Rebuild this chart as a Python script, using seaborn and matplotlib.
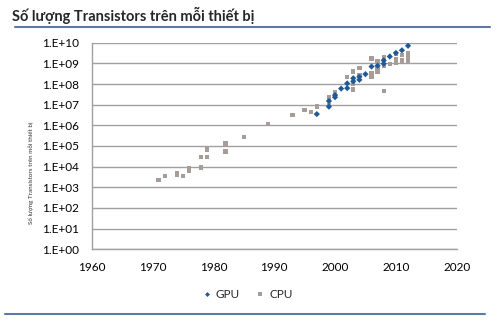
import matplotlib
matplotlib.use("Agg")
import matplotlib.pyplot as plt
import seaborn as sns
import pandas as pd
import numpy as np
from matplotlib.lines import Line2D

# ---- data ----
gpu_years = [1997, 1999, 1999, 2000, 2000, 2001, 2002, 2002, 2003, 2003,
             2004, 2004, 2005, 2006, 2007, 2008, 2008, 2009, 2010, 2011, 2012]
gpu_values = [3.5e6, 15e6, 8e6, 29e6, 23e6, 60e6, 63e6, 107e6, 135e6, 190e6,
              222e6, 160e6, 300e6, 700e6, 770e6, 1.4e9, 956e6, 2.15e9, 3.2e9, 4.3e9, 7.1e9]

cpu_years = [1971, 1972, 1974, 1974, 1975, 1976, 1976, 1978, 1978, 1979, 1979,
             1982, 1982, 1985, 1989, 1993, 1995, 1996, 1997, 1997, 1999, 1999,
             2000, 2000, 2002, 2003, 2003, 2003, 2004, 2004, 2006, 2006, 2006,
             2007, 2007, 2007, 2008, 2008, 2008, 2008, 2009,
             2010, 2010, 2010, 2011, 2011, 2011, 2012, 2012, 2012, 2012]
cpu_values = [2300, 3500, 5000, 4100, 3500, 8500, 6500, 29000, 9000, 29000, 68000,
              134000, 55000, 275000, 1.2e6, 3.1e6, 5.5e6, 4.5e6, 7.5e6, 8.8e6, 9.5e6, 22e6,
              42e6, 30e6, 220e6, 54e6, 105e6, 410e6, 592e6, 275e6, 1.72e9, 330e6, 220e6,
              1.3e9, 580e6, 410e6, 2.0e9, 1.45e9, 750e6, 47e6, 930e6,
              2.9e9, 1.6e9, 1.1e9, 2.6e9, 1.4e9, 1.16e9, 3.1e9, 2.0e9, 1.4e9, 1.2e9]

series_names = ["GPU", "CPU"]
x_ticks = [1960, 1970, 1980, 1990, 2000, 2010, 2020]
y_exponents = list(range(0, 11))
title_text = "Số lượng Transistors trên mỗi thiết bị"
ylabel_text = "Số lượng Transistors trên mỗi thiết bị"

gpu_df = pd.DataFrame({"year": gpu_years, "value": gpu_values})
cpu_df = pd.DataFrame({"year": cpu_years, "value": cpu_values})

sns.set_theme(style="white")
plt.rcParams["font.family"] = ["Lato", "DejaVu Sans"]

GPU_COLOR = "#1F5A96"
CPU_COLOR = "#A69C98"
GRID = "#A0A0A0"
LINE_BLUE = "#5A7BA6"

fig = plt.figure(figsize=(5.0, 3.23), dpi=100)
ax = fig.add_axes([91.7 / 500, 1 - 249.3 / 323, (456.7 - 91.7) / 500, (249.3 - 42.7) / 323])

sns.scatterplot(data=cpu_df, x="year", y="value", ax=ax, marker="s", s=10,
                color=CPU_COLOR, edgecolor="none", linewidth=0, label="CPU", zorder=3)
sns.scatterplot(data=gpu_df, x="year", y="value", ax=ax, marker="D", s=10,
                color=GPU_COLOR, edgecolor="none", linewidth=0, label="GPU", zorder=4)

ax.set_yscale("log")
ax.set_xlim(1960, 2020)
ax.set_ylim(1, 1e10)
ax.set_xticks(x_ticks)
ax.set_xticklabels([str(t) for t in x_ticks])
yt = [10.0 ** e for e in y_exponents]
ax.yaxis.set_major_locator(matplotlib.ticker.FixedLocator(yt))
ax.yaxis.set_minor_locator(matplotlib.ticker.NullLocator())
ax.set_yticklabels(["1.E+%02d" % e for e in y_exponents])
ax.set_xlabel("")
ax.set_ylabel("")

ax.grid(axis="y", color=GRID, linewidth=1.0)
ax.grid(axis="x", visible=False)
for side in ["top", "right"]:
    ax.spines[side].set_visible(False)
for side in ["left", "bottom"]:
    ax.spines[side].set_color(GRID)
    ax.spines[side].set_linewidth(1.0)
ax.tick_params(axis="both", direction="out", length=4, width=1, color=GRID,
               labelsize=8.5, labelcolor="#000000", pad=3)
ax.tick_params(axis="y", pad=5)
ax.tick_params(axis="x", pad=5)
ax.set_facecolor("white")

if ax.get_legend():
    ax.get_legend().remove()

handles = [Line2D([], [], marker="D", linestyle="none", markersize=2.5, color=GPU_COLOR, markeredgewidth=0),
           Line2D([], [], marker="s", linestyle="none", markersize=3, color=CPU_COLOR, markeredgewidth=0)]
fig.legend(handles, series_names, loc="center", bbox_to_anchor=(248 / 500, 1 - 295 / 323),
           ncol=2, frameon=False, fontsize=8.5, handlelength=0.6, handletextpad=0.5,
           columnspacing=1.4)

fig.text(12 / 500, 1 - 15 / 323, title_text, fontsize=10.5, fontweight="bold",
         ha="left", va="center")
fig.text(31 / 500, 1 - 173 / 323, ylabel_text, fontsize=4.5, rotation=90,
         ha="center", va="center", color="#333333")

fig.add_artist(Line2D([15 / 500, 490 / 500], [1 - 26.7 / 323, 1 - 26.7 / 323],
                      color=LINE_BLUE, linewidth=1.5, transform=fig.transFigure))
fig.add_artist(Line2D([5 / 500, 485 / 500], [1 - 313.5 / 323, 1 - 313.5 / 323],
                      color=LINE_BLUE, linewidth=1.5, transform=fig.transFigure))

fig.savefig("out.png", dpi=100, facecolor="white")
